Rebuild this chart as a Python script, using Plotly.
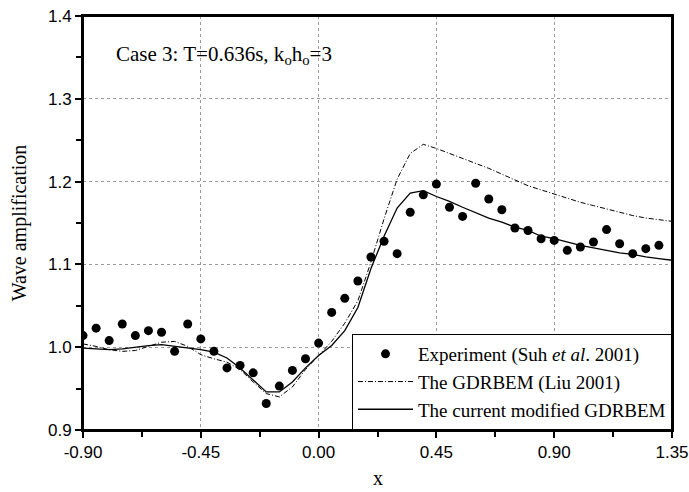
import plotly.graph_objects as go

# Experiment (Suh et al. 2001)
exp_x = [-0.90, -0.85, -0.80, -0.75, -0.70, -0.65, -0.60, -0.55, -0.50, -0.45,
         -0.40, -0.35, -0.30, -0.25, -0.20, -0.15, -0.10, -0.05, 0.00, 0.05,
         0.10, 0.15, 0.20, 0.25, 0.30, 0.35, 0.40, 0.45, 0.50, 0.55,
         0.60, 0.65, 0.70, 0.75, 0.80, 0.85, 0.90, 0.95, 1.00, 1.05,
         1.10, 1.15, 1.20, 1.25, 1.30]
exp_y = [1.014, 1.023, 1.008, 1.028, 1.014, 1.020, 1.018, 0.995, 1.028, 1.010,
         0.995, 0.975, 0.978, 0.969, 0.932, 0.953, 0.972, 0.986, 1.005, 1.042,
         1.059, 1.080, 1.109, 1.128, 1.113, 1.163, 1.184, 1.197, 1.169, 1.158,
         1.198, 1.179, 1.166, 1.144, 1.141, 1.131, 1.129, 1.117, 1.121, 1.127,
         1.142, 1.125, 1.113, 1.119, 1.123]

# Model curves
line_x = [-0.90, -0.85, -0.80, -0.75, -0.70, -0.65, -0.60, -0.55, -0.50, -0.45,
          -0.40, -0.35, -0.30, -0.25, -0.20, -0.15, -0.10, -0.05, 0.00, 0.05,
          0.10, 0.15, 0.20, 0.25, 0.30, 0.35, 0.40, 0.45, 0.50, 0.55,
          0.60, 0.65, 0.70, 0.75, 0.80, 0.85, 0.90, 0.95, 1.00, 1.05,
          1.10, 1.15, 1.20, 1.25, 1.30, 1.35]
liu_y = [1.004, 1.001, 0.997, 0.995, 0.996, 1.001, 1.006, 1.007, 1.001, 0.991,
         0.986, 0.982, 0.973, 0.958, 0.944, 0.940, 0.952, 0.973, 0.990, 1.007,
         1.029, 1.056, 1.103, 1.155, 1.203, 1.234, 1.245, 1.240, 1.234, 1.228,
         1.222, 1.216, 1.209, 1.202, 1.195, 1.190, 1.185, 1.180, 1.175, 1.171,
         1.167, 1.163, 1.159, 1.156, 1.154, 1.152]
cur_y = [0.999, 0.998, 0.997, 0.998, 1.000, 1.002, 1.003, 1.001, 0.999, 0.997,
         0.994, 0.987, 0.975, 0.961, 0.946, 0.946, 0.958, 0.975, 0.990, 1.002,
         1.020, 1.048, 1.095, 1.134, 1.168, 1.186, 1.189, 1.182, 1.176, 1.169,
         1.162, 1.156, 1.151, 1.145, 1.141, 1.134, 1.131, 1.127, 1.123, 1.120,
         1.117, 1.114, 1.112, 1.109, 1.107, 1.105]

x_ticks = [-0.90, -0.45, 0.00, 0.45, 0.90, 1.35]
x_ticklabels = ["-0.90", "-0.45", "0.00", "0.45", "0.90", "1.35"]
y_ticks = [0.9, 1.0, 1.1, 1.2, 1.3, 1.4]
y_ticklabels = ["0.9", "1.0", "1.1", "1.2", "1.3", "1.4"]

serif = "Liberation Serif, Times New Roman, serif"
sans = "Liberation Sans, Arial, sans-serif"

fig = go.Figure()
fig.add_trace(go.Scatter(
    x=exp_x, y=exp_y, mode="markers",
    name="Experiment (Suh <i>et al</i>. 2001)",
    marker=dict(symbol="circle", size=9, color="black"),
))
fig.add_trace(go.Scatter(
    x=line_x, y=liu_y, mode="lines",
    name="The GDRBEM (Liu 2001)",
    line=dict(color="black", width=1, dash="5px,2px,1px,2px"),
))
fig.add_trace(go.Scatter(
    x=line_x, y=cur_y, mode="lines",
    name="The current modified GDRBEM",
    line=dict(color="black", width=1.3),
))

axis_common = dict(
    showline=True, linecolor="black", linewidth=2, mirror=True,
    ticks="outside", ticklen=6, tickwidth=1.5, tickcolor="black",
    showgrid=True, gridcolor="#9a9a9a", griddash="dot", gridwidth=1,
    zeroline=False, automargin=False,
    tickfont=dict(family=sans, size=17, color="black"),
)

fig.update_xaxes(
    range=[-0.9, 1.35], tickmode="array", tickvals=x_ticks, ticktext=x_ticklabels,
    minor=dict(dtick=0.225, tick0=-0.9, ticks="outside", ticklen=5,
               tickwidth=1.5, tickcolor="black", showgrid=False),
    **axis_common,
)
fig.update_yaxes(
    range=[0.9, 1.4], tickmode="array", tickvals=y_ticks, ticktext=y_ticklabels,
    minor=dict(dtick=0.05, tick0=0.9, ticks="outside", ticklen=5,
               tickwidth=1.5, tickcolor="black", showgrid=False),
    title=dict(text="Wave amplification", font=dict(family=serif, size=20, color="black"), standoff=16),
    **axis_common,
)

# x-axis title placed below the tick labels
fig.add_annotation(
    xref="paper", yref="paper", x=0.5, y=-0.117, xanchor="center", yanchor="middle",
    text="x", showarrow=False, font=dict(family=serif, size=20, color="black"),
)

# plot frame
fig.add_shape(type="rect", xref="paper", yref="paper", x0=0, y0=0, x1=1, y1=1,
              line=dict(color="black", width=2), layer="above")

fig.add_annotation(
    xref="paper", yref="paper", x=0.052, y=0.906, xanchor="left", yanchor="middle",
    text="Case 3: T=0.636s, k<sub>o</sub>h<sub>o</sub>=3", showarrow=False,
    font=dict(family=serif, size=21, color="black"),
)

fig.update_layout(
    width=689, height=492,
    margin=dict(l=83, r=17, t=16, b=62),
    paper_bgcolor="white", plot_bgcolor="white",
    showlegend=True,
    legend=dict(
        x=1, y=0, xanchor="right", yanchor="bottom",
        bgcolor="white", bordercolor="black", borderwidth=1,
        font=dict(family=serif, size=19, color="black"),
        itemwidth=55, tracegroupgap=0,
    ),
)

fig.write_html(
    "out.html",
    config={"displayModeBar": False},
    post_script="document.body.style.margin='0';document.body.style.padding='0';",
)
